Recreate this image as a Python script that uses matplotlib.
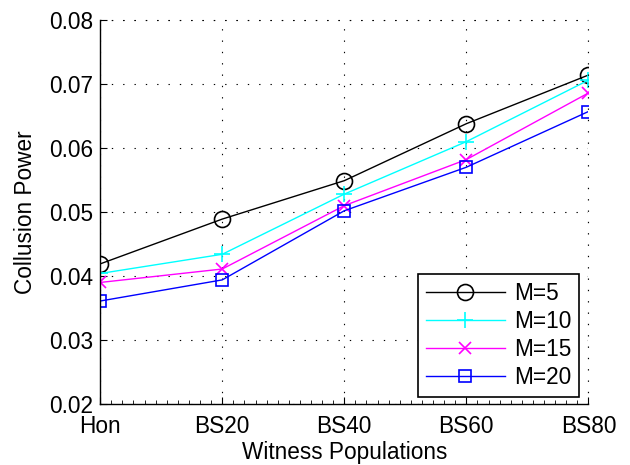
import matplotlib
matplotlib.use("Agg")
import matplotlib.pyplot as plt
from matplotlib.ticker import MultipleLocator

plt.rcParams['font.family'] = ['Liberation Sans', 'DejaVu Sans']

categories = ["Hon", "BS20", "BS40", "BS60", "BS80"]
m5 = [0.0419, 0.0489, 0.0549, 0.0638, 0.0714]
m10 = [0.0404, 0.0434, 0.0528, 0.0610, 0.0706]
m15 = [0.0390, 0.0411, 0.0510, 0.0582, 0.0686]
m20 = [0.0361, 0.0394, 0.0502, 0.0570, 0.0657]
yticks = [0.02, 0.03, 0.04, 0.05, 0.06, 0.07, 0.08]

FS = 16.3
fig = plt.figure(figsize=(6.3, 4.65), dpi=100)
ax = fig.add_axes([0.159, 0.131, 0.775, 0.826])
x = list(range(len(categories)))

ax.plot(x, m5, color='black', marker='o', markersize=11.5, markerfacecolor='none',
        markeredgewidth=1.2, linewidth=1, label='M=5')
ax.plot(x, m10, color='#00FFFF', marker='+', markersize=12, markeredgewidth=1.2,
        linewidth=1, label='M=10')
ax.plot(x, m15, color='#FF00FF', marker='x', markersize=8.5, markeredgewidth=1.2,
        linewidth=1, label='M=15')
ax.plot(x, m20, color='#0000FF', marker='s', markersize=9, markerfacecolor='none',
        markeredgewidth=1.2, linewidth=1, label='M=20')

ax.set_xlim(0, 4)
ax.set_ylim(0.02, 0.08)
ax.set_xticks(x)
ax.set_xticklabels(categories)
ax.set_yticks(yticks)
ax.set_yticklabels([f"{v:.2f}" for v in yticks])
ax.xaxis.set_minor_locator(MultipleLocator(1/11))
ax.tick_params(axis='both', which='major', direction='in', length=5, labelsize=FS,
               top=False, right=False, width=0.8)
ax.tick_params(axis='x', which='major', pad=8)
ax.tick_params(axis='y', which='major', pad=5)
ax.tick_params(axis='x', which='minor', direction='in', length=3, top=False, width=0.6)
ax.tick_params(axis='y', which='minor', left=False, right=False)
for side in ['top', 'right']:
    ax.spines[side].set_visible(False)
for side in ['left', 'bottom']:
    ax.spines[side].set_linewidth(1)

dots = (0, (1.2, 9))
ax.grid(True, which='major', linestyle=dots, color='black', linewidth=0.8)
ax.set_axisbelow(True)
ax.axhline(0.08, linestyle=dots, color='black', linewidth=0.8, clip_on=False)
ax.axvline(4, linestyle=dots, color='black', linewidth=0.8, clip_on=False)

ax.set_xlabel("Witness Populations", fontsize=FS, labelpad=2)
ax.set_ylabel("Collusion Power", fontsize=FS, labelpad=9)

leg = ax.legend(loc='lower right', bbox_to_anchor=(0.981, 0.018), fontsize=FS,
                frameon=True, fancybox=False, edgecolor='black', framealpha=1,
                handlelength=3.5, borderpad=0.35, labelspacing=0.22, handletextpad=0.4,
                borderaxespad=0)
leg.get_frame().set_linewidth(1.2)

fig.savefig("out.png", dpi=100)
